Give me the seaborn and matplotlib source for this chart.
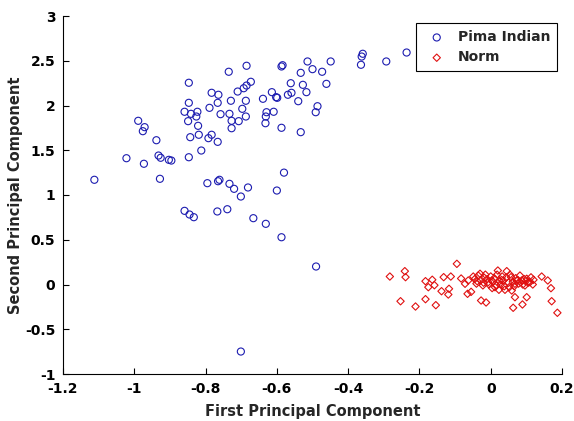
import matplotlib
matplotlib.use("Agg")
import matplotlib.pyplot as plt
import seaborn as sns
import pandas as pd
from matplotlib.ticker import FuncFormatter

# ---- data ----
pima_x = [-0.685, -0.735, -0.847, -0.783, -0.764, -0.710, -0.693, -0.685, -0.729, -0.687,
          -0.847, -0.766, -0.789, -0.697, -0.859, -0.841, -0.823, -0.826, -0.849, -0.758,
          -0.733, -0.727, -0.707, -0.687, -0.989, -0.971, -0.976, -0.821, -0.727, -0.938,
          -0.843, -0.819, -0.783, -0.792, -0.766, -0.673, -0.587, -0.584, -0.514, -0.449,
          -0.500, -0.473, -0.533, -0.359, -0.362, -0.364, -0.293, -0.236, -0.561, -0.527,
          -0.461, -0.614, -0.602, -0.599, -0.639, -0.569, -0.559, -0.517, -0.540, -0.486,
          -0.491, -0.629, -0.609, -0.631, -0.632, -0.587, -0.533, -1.022, -0.973, -0.932,
          -0.926, -0.903, -0.896, -0.847, -0.812, -1.112, -0.928, -0.795, -0.765, -0.761,
          -0.733, -0.720, -0.701, -0.681, -0.859, -0.845, -0.833, -0.767, -0.739, -0.666,
          -0.631, -0.587, -0.490, -0.701, -0.580, -0.600]
pima_y = [2.444, 2.377, 2.254, 2.142, 2.120, 2.156, 2.193, 2.223, 2.053, 2.053,
          2.030, 2.030, 1.974, 1.963, 1.930, 1.907, 1.930, 1.877, 1.825, 1.903,
          1.907, 1.829, 1.825, 1.877, 1.829, 1.758, 1.713, 1.773, 1.746, 1.612,
          1.646, 1.673, 1.673, 1.635, 1.594, 2.265, 2.436, 2.450, 2.492, 2.492,
          2.406, 2.377, 2.365, 2.578, 2.547, 2.455, 2.492, 2.592, 2.249, 2.231,
          2.242, 2.149, 2.093, 2.086, 2.075, 2.120, 2.142, 2.149, 2.048, 1.992,
          1.925, 1.925, 1.930, 1.877, 1.802, 1.751, 1.702, 1.411, 1.349, 1.441,
          1.416, 1.393, 1.385, 1.422, 1.497, 1.170, 1.181, 1.132, 1.154, 1.170,
          1.125, 1.069, 0.983, 1.084, 0.823, 0.782, 0.752, 0.816, 0.841, 0.741,
          0.678, 0.528, 0.201, -0.749, 1.250, 1.050]

norm_x = [-0.283, -0.241, -0.239, -0.253, -0.211, -0.183, -0.164, -0.175, -0.158, -0.138,
          -0.183, -0.154, -0.132, -0.112, -0.117, -0.119, -0.095, -0.083, -0.072, -0.065,
          -0.055, -0.063, -0.049, -0.030, -0.038, -0.018, -0.027, -0.013, -0.007, 0.003,
          0.020, 0.045, 0.012, 0.023, 0.040, 0.035, 0.057, 0.073, 0.068, 0.059,
          0.087, 0.101, 0.110, 0.096, 0.120, 0.143, 0.160, 0.169, 0.068, 0.101,
          0.089, 0.063, 0.171, 0.187,
          # dense core
          -0.045, -0.040, -0.035, -0.028, -0.022, -0.015, -0.010, -0.005, 0.000, 0.006,
          0.010, 0.015, 0.018, 0.025, 0.028, 0.032, 0.038, 0.044, 0.050, 0.054,
          0.062, 0.066, 0.070, 0.078, 0.082, 0.090, 0.094, 0.105, 0.113, 0.118,
          -0.020, 0.004, 0.030, 0.052, 0.076, 0.098]
norm_y = [0.089, 0.149, 0.082, -0.187, -0.246, 0.037, 0.053, -0.030, -0.008, -0.075,
          -0.164, -0.231, 0.082, 0.089, -0.048, -0.112, 0.231, 0.067, 0.008, -0.104,
          -0.082, 0.045, 0.089, 0.120, 0.037, 0.075, -0.179, -0.201, 0.026, 0.045,
          0.156, 0.149, -0.030, -0.059, -0.059, 0.045, 0.082, 0.045, 0.008, -0.067,
          0.045, 0.064, 0.026, -0.011, 0.053, 0.089, 0.045, -0.041, -0.142, -0.142,
          -0.223, -0.260, -0.187, -0.316,
          0.060, 0.010, 0.100, 0.050, -0.010, 0.110, 0.060, 0.000, 0.090, 0.030,
          0.070, -0.010, 0.110, 0.040, 0.000, 0.090, -0.020, 0.080, 0.020, 0.110,
          0.030, -0.020, 0.070, 0.010, 0.100, 0.000, 0.060, 0.020, 0.080, 0.000,
          0.020, -0.040, 0.050, -0.030, 0.050, 0.035]

x_ticks = [-1.2, -1.0, -0.8, -0.6, -0.4, -0.2, 0.0, 0.2]
y_ticks = [-1, -0.5, 0, 0.5, 1, 1.5, 2, 2.5, 3]

pima = pd.DataFrame({"x": pima_x, "y": pima_y})
norm = pd.DataFrame({"x": norm_x, "y": norm_y})

sns.set_style("white")
plt.rcParams["font.family"] = ["DejaVu Sans"]
plt.rcParams["font.weight"] = "bold"

fig = plt.figure(figsize=(5.74, 4.21), dpi=100)
ax = fig.add_axes([63 / 574, 1 - 374 / 421, (562 - 63) / 574, (374 - 16) / 421])

sns.scatterplot(data=pima, x="x", y="y", ax=ax, marker="o", s=26,
                color="#1c1cb0", facecolors="none", edgecolor="#1c1cb0",
                linewidth=0.8, label="Pima Indian")
sns.scatterplot(data=norm, x="x", y="y", ax=ax, marker="D", s=14,
                color="#e01010", facecolors="none", edgecolor="#e01010",
                linewidth=0.8, label="Norm")

ax.set_xlim(-1.2, 0.2)
ax.set_ylim(-1, 3)
ax.set_xticks(x_ticks)
ax.set_yticks(y_ticks)
ax.xaxis.set_major_formatter(FuncFormatter(lambda v, p: f"{v:g}"))
ax.yaxis.set_major_formatter(FuncFormatter(lambda v, p: f"{v:g}"))
ax.tick_params(direction="in", length=4, width=0.8, labelsize=10, colors="black",
               left=True, bottom=True, top=False, right=False, pad=5.5)
for lab in ax.get_xticklabels() + ax.get_yticklabels():
    lab.set_fontweight("bold")
for side in ["top", "right"]:
    ax.spines[side].set_visible(False)
for side in ["left", "bottom"]:
    ax.spines[side].set_color("black")
    ax.spines[side].set_linewidth(0.8)

ax.set_xlabel("First Principal Component", fontsize=10.5, fontweight="bold", labelpad=6)
ax.set_ylabel("Second Principal Component", fontsize=10.5, fontweight="bold", labelpad=1.5)

leg = ax.legend(loc="upper right", bbox_to_anchor=(0.990, 0.980), frameon=True,
                fancybox=False, edgecolor="black", framealpha=1,
                prop={"weight": "bold", "size": 10}, handletextpad=0.5,
                borderpad=0.5, labelspacing=0.45, handlelength=2.0, borderaxespad=0)
leg.get_frame().set_linewidth(0.8)

fig.savefig("out.png", dpi=100)
